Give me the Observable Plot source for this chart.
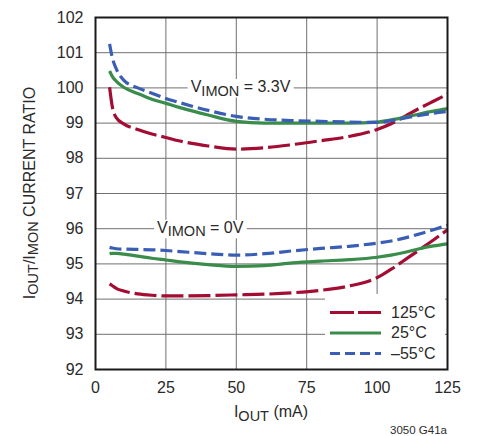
<!DOCTYPE html>
<html><head><meta charset="utf-8">
<script src="https://cdn.jsdelivr.net/npm/d3@7"></script>
<script src="https://cdn.jsdelivr.net/npm/@observablehq/plot@0.6"></script>
<style>
body{margin:0;background:#fff;}
svg{display:block}
</style></head><body>
<div id="chart"></div>
<script>
// ---- data ----
const ioutMA = [5, 6, 7.5, 10, 15, 20, 25, 30, 40, 50, 60, 70, 80, 90, 100, 105, 110, 115, 120, 125];

// V_IMON = 3.3V
const ratio33_125C = [100.02, 99.45, 99.14, 98.98, 98.82, 98.69, 98.59, 98.49, 98.35, 98.26, 98.30, 98.39, 98.50, 98.62, 98.82, 98.98, 99.20, 99.42, 99.62, 99.82];
const ratio33_25C  = [100.48, 100.32, 100.18, 100.02, 99.84, 99.68, 99.56, 99.44, 99.23, 99.05, 99.00, 99.00, 99.00, 99.00, 99.03, 99.09, 99.17, 99.26, 99.34, 99.41];
const ratio33_m55C = [101.25, 100.85, 100.52, 100.22, 100.00, 99.85, 99.70, 99.58, 99.36, 99.19, 99.11, 99.07, 99.05, 99.03, 99.02, 99.07, 99.15, 99.22, 99.28, 99.33];

// V_IMON = 0V
const ratio0_125C = [94.43, 94.38, 94.30, 94.23, 94.15, 94.11, 94.09, 94.09, 94.10, 94.12, 94.14, 94.18, 94.25, 94.37, 94.61, 94.85, 95.12, 95.40, 95.68, 95.97];
const ratio0_25C  = [95.29, 95.30, 95.30, 95.28, 95.22, 95.16, 95.11, 95.06, 94.98, 94.93, 94.95, 95.03, 95.08, 95.12, 95.19, 95.25, 95.33, 95.43, 95.51, 95.57];
const ratio0_m55C = [95.47, 95.45, 95.43, 95.42, 95.41, 95.40, 95.38, 95.35, 95.29, 95.25, 95.29, 95.37, 95.44, 95.50, 95.59, 95.65, 95.74, 95.85, 95.97, 96.10];

const xTicks = [0, 25, 50, 75, 100, 125];
const yTicks = [92, 93, 94, 95, 96, 97, 98, 99, 100, 101, 102];

const legendLabels = ["125°C", "25°C", "–55°C"];
const annotationLabels = ["V_{IMON} = 3.3V", "V_{IMON} = 0V"];
const annotationX = [51.5, 37.2];
const annotationY = [100, 96];

const xTitle = "I_{OUT} (mA)";
const yTitle = "I_{OUT}/I_{MON} CURRENT RATIO";
const noteText = "3050 G41a";

// ---- styles ----
const RED = "#a30d33", GREEN = "#3a8c4a", BLUE = "#3b5eb5";
const seriesStyle = {
  "125°C": {stroke: RED, dash: "22,5"},
  "25°C": {stroke: GREEN, dash: null},
  "–55°C": {stroke: BLUE, dash: "12,5"}
};
const series = [
  {temp: "125°C", ys: ratio33_125C}, {temp: "25°C", ys: ratio33_25C}, {temp: "–55°C", ys: ratio33_m55C},
  {temp: "125°C", ys: ratio0_125C}, {temp: "25°C", ys: ratio0_25C}, {temp: "–55°C", ys: ratio0_m55C}
];
const toRows = ys => ioutMA.map((x, i) => ({x, y: ys[i]}));
const annRows = annotationLabels.map((t, i) => ({t, x: annotationX[i], y: annotationY[i]}));

const W = 477, H = 436, mL = 95, mR = 30, mT = 17, mB = 67;

const chart = Plot.plot({
  width: W, height: H,
  marginLeft: mL, marginRight: mR, marginTop: mT, marginBottom: mB,
  style: {fontFamily: "'Liberation Sans', Arial, Helvetica, sans-serif", fontSize: "16px", color: "#2a2a2a", background: "white", overflow: "visible"},
  x: {domain: [0, 125], ticks: xTicks, tickSize: 0, tickPadding: 12.5, label: null},
  y: {domain: [92, 102], ticks: yTicks, tickSize: 0, tickPadding: 12, label: null},
  marks: [
    Plot.ruleX(xTicks, {stroke: "#707070", strokeWidth: 1}),
    Plot.ruleY(yTicks, {stroke: "#707070", strokeWidth: 1}),
    Plot.text(annRows, {x: "x", y: "y", text: "t", textAnchor: "middle", fill: "#2a2a2a", fontSize: 16, dy: -1}),
    ...series.map(s => Plot.line(toRows(s.ys), {
      x: "x", y: "y", curve: "monotone-x",
      stroke: seriesStyle[s.temp].stroke, strokeWidth: 3.2,
      strokeDasharray: seriesStyle[s.temp].dash || undefined,
      strokeLinecap: "butt"
    })),
    Plot.frame({stroke: "#1a1a1a", strokeWidth: 2})
  ]
});
document.getElementById("chart").appendChild(chart);

const svg = d3.select(chart);

function richText(sel, str, shift, subSize) {
  sel.text(null);
  const parts = str.split(/(_\{[^}]*\})/).filter(s => s.length);
  let shifted = false;
  parts.forEach(p => {
    const sub = p.startsWith("_{");
    const t = sel.append("tspan").text(sub ? p.slice(2, -1) : p);
    if (sub) { if (!shifted) t.attr("dy", shift); t.attr("font-size", subSize); shifted = true; }
    else if (shifted) { t.attr("dy", -shift); shifted = false; }
  });
}

// annotations with subscripts + white background
svg.selectAll("text").each(function() {
  const s = this.textContent;
  const idx = annotationLabels.indexOf(s);
  if (idx < 0) return;
  const sel = d3.select(this);
  richText(sel, s, 3.5, 14.5);
  const b = this.getBBox();
  const r = document.createElementNS("http://www.w3.org/2000/svg", "rect");
  r.setAttribute("x", b.x - 3); r.setAttribute("y", b.y + 1);
  r.setAttribute("width", b.width + 6); r.setAttribute("height", b.height - 2);
  r.setAttribute("fill", "white");
  if (this.getAttribute("transform")) r.setAttribute("transform", this.getAttribute("transform"));
  this.parentNode.insertBefore(r, this);
});

// axis titles
const xt = svg.append("text").attr("x", mL + (W - mL - mR) / 2).attr("y", 417)
  .attr("text-anchor", "middle").attr("fill", "#2a2a2a").attr("font-size", 16);
richText(xt, xTitle, 3.5, 14.5);
const yt = svg.append("text").attr("transform", `translate(34.5,${mT + (H - mT - mB) / 2}) rotate(-90)`)
  .attr("text-anchor", "middle").attr("fill", "#2a2a2a").attr("font-size", 16);
richText(yt, yTitle, 3.5, 14.5);

// note
svg.append("text").attr("x", W - mR).attr("y", 434).attr("text-anchor", "end")
  .attr("font-family", "'Liberation Sans Narrow', 'Arial Narrow', Arial, sans-serif")
  .attr("font-size", 11.5).attr("fill", "#2a2a2a").text(noteText);

// legend (inside plot, lower right), placed under the frame
const frameEl = svg.select("[aria-label=frame]").node();
const lg = svg.insert("g", () => frameEl).attr("text-anchor", "start");
const boxX = 325, boxY = 294, boxR = W - mR - 2, boxB = H - mB;
lg.append("rect").attr("x", boxX).attr("y", boxY).attr("width", boxR - boxX).attr("height", boxB - boxY).attr("fill", "white");
const legendDash = {"125°C": "24,4", "25°C": null, "–55°C": "10,5"};
legendLabels.forEach((lab, i) => {
  const y = 312.5 + i * 20.5;
  lg.append("line").attr("x1", 330).attr("x2", 381).attr("y1", y).attr("y2", y)
    .attr("stroke", seriesStyle[lab].stroke).attr("stroke-width", 3.2)
    .attr("stroke-dasharray", legendDash[lab]);
  lg.append("text").attr("x", 391).attr("y", y).attr("dy", "0.32em")
    .attr("text-anchor", "start")
    .attr("fill", "#2a2a2a").attr("font-size", 16).text(lab);
});
</script>
</body></html>
